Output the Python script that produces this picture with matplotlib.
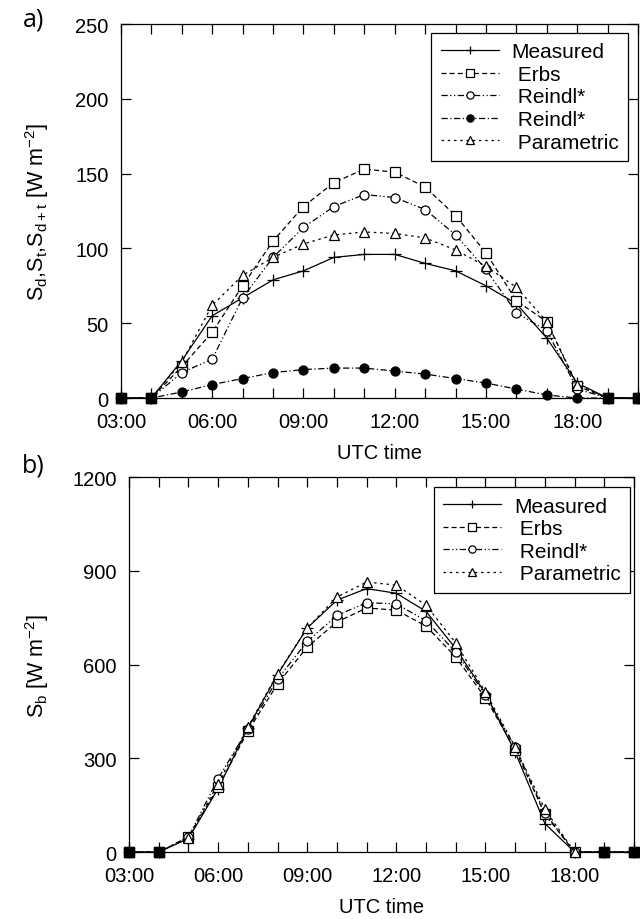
import numpy as np
import matplotlib
matplotlib.use('Agg')
import matplotlib.pyplot as plt
from matplotlib.ticker import MultipleLocator, FixedLocator

plt.rcParams['font.family'] = ['Liberation Sans', 'DejaVu Sans']
plt.rcParams['mathtext.default'] = 'regular'

# hours (UTC)
hours = list(range(3, 21))

# panel a) diffuse / tilted [W m-2]
meas_a = [0, 0, 25, 55, 67, 79, 85, 94, 96, 96, 90, 85, 75, 63, 40, 10, 0, 0]
erbs_a = [0, 0, 21, 44, 75, 105, 128, 144, 153, 151, 141, 122, 97, 65, 51, 8, 0, 0]
reindl_a = [0, 0, 17, 26, 67, 94, 114, 128, 136, 134, 126, 109, 86, 57, 45, 6, 0, 0]
reindl_t = [0, 0, 4, 9, 13, 17, 19, 20, 20, 18, 16, 13, 10, 6, 2, 0, 0, 0]
param_a = [0, 0, 24, 62, 82, 94, 103, 109, 111, 110, 107, 99, 88, 74, 51, 9, 0, 0]

# panel b) beam [W m-2]
meas_b = [0, 0, 43, 203, 397, 568, 717, 806, 843, 828, 770, 651, 507, 320, 91, 0, 0, 0]
erbs_b = [0, 0, 48, 208, 386, 538, 656, 736, 781, 774, 723, 624, 493, 328, 121, 0, 0, 0]
reindl_b = [0, 0, 48, 235, 393, 553, 674, 757, 798, 794, 740, 640, 502, 336, 125, 0, 0, 0]
param_b = [0, 0, 46, 219, 400, 571, 717, 816, 864, 854, 790, 669, 512, 336, 137, 0, 0, 0]

x_labels = ['03:00', '06:00', '09:00', '12:00', '15:00', '18:00']

fig = plt.figure(figsize=(6.4, 9.2), dpi=100)
ax1 = fig.add_axes([0.189, 0.5663, 0.808, 0.4065])
ax2 = fig.add_axes([0.2016, 0.0728, 0.789, 0.4076])

lw = 0.9
k = 'black'
styles = {
    'meas': dict(ls='-', marker='+', ms=8, mew=0.9),
    'erbs': dict(ls=(0, (4, 2.5)), marker='s', ms=6.5, mfc='white', mew=0.9),
    'reindl': dict(ls=(0, (5, 2, 1, 2, 1, 2)), marker='o', ms=6.5, mfc='white', mew=0.9),
    'reindl_t': dict(ls=(0, (5, 2, 1, 2)), marker='o', ms=6.5, mfc=k, mew=0.9),
    'param': dict(ls=(0, (2, 3)), marker='^', ms=6.5, mfc='white', mew=0.9),
}

def draw(ax, data):
    for vals, key, lab in data:
        ax.plot(hours, vals, color=k, lw=lw, label=lab, clip_on=False,
                zorder=3, **styles[key])

draw(ax1, [(meas_a, 'meas', 'Measured'), (erbs_a, 'erbs', ' Erbs'),
           (reindl_a, 'reindl', ' Reindl*'), (reindl_t, 'reindl_t', ' Reindl*'),
           (param_a, 'param', ' Parametric')])
draw(ax2, [(meas_b, 'meas', 'Measured'), (erbs_b, 'erbs', ' Erbs'),
           (reindl_b, 'reindl', ' Reindl*'), (param_b, 'param', ' Parametric')])

# the night-time points sit on top of each other -> black squares
for ax in (ax1, ax2):
    zero_h = [3, 4, 19, 20]
    ax.plot(zero_h, [0] * 4, ls='none', marker='s', ms=6.5, color=k,
            clip_on=False, zorder=4)

ax1.set_ylim(0, 250)
ax1.yaxis.set_major_locator(MultipleLocator(50))
ax2.set_ylim(0, 1200)
ax2.yaxis.set_major_locator(MultipleLocator(300))

for ax in (ax1, ax2):
    ax.set_xlim(3, 20)
    ax.xaxis.set_major_locator(FixedLocator([3, 6, 9, 12, 15, 18]))
    ax.set_xticklabels(x_labels)
    ax.xaxis.set_minor_locator(MultipleLocator(1))
    ax.tick_params(which='both', direction='in', top=True, right=True,
                   length=7, width=0.9, labelsize=14.5)
    ax.tick_params(axis='x', pad=10)
    ax.tick_params(axis='y', pad=9)
    for s in ax.spines.values():
        s.set_linewidth(0.9)
    ax.set_xlabel('UTC time', fontsize=14.5, labelpad=9)
    leg = ax.legend(loc='upper right', fontsize=15, handlelength=2.8,
                    handletextpad=0.6, labelspacing=0.17, borderpad=0.45,
                    borderaxespad=0, fancybox=False, edgecolor=k, framealpha=1,
                    markerscale=0.8)
    leg.get_frame().set_linewidth(0.9)

ax1.get_legend().set_bbox_to_anchor((0.98, 0.976))
ax2.get_legend().set_bbox_to_anchor((0.992, 0.973))

ax1.set_ylabel('S$_d$,S$_t$,S$_{d+t}$ [W m$^{-2}$]', fontsize=15.5)
ax2.set_ylabel('S$_b$ [W m$^{-2}$]', fontsize=15.5)
ax1.yaxis.set_label_coords(-0.135, 0.5)
ax2.yaxis.set_label_coords(-0.155, 0.5)

fig.text(0.036, 0.978, 'a)', fontsize=18, family='Open Sans', va='center')
fig.text(0.034, 0.493, 'b)', fontsize=18, family='Open Sans', va='center')

fig.savefig('out.png', dpi=100)
